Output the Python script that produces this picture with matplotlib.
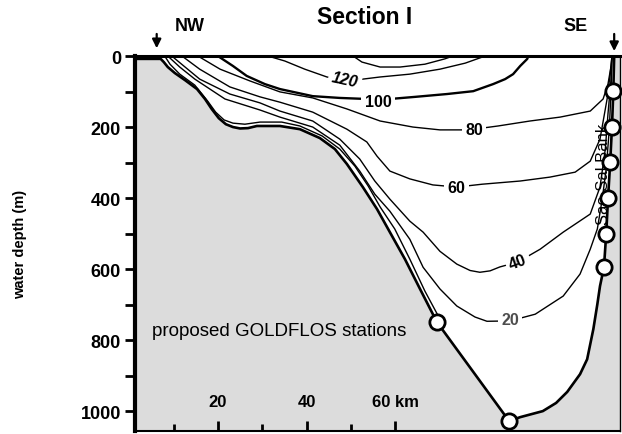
import matplotlib
matplotlib.use("Agg")
import matplotlib.pyplot as plt

plt.rcParams['font.family'] = ['Liberation Sans', 'DejaVu Sans']

# seafloor profile along the section (km, m)
floor_km = [1.3, 7.1, 7.8, 8.7, 10.3, 12.6, 15.3, 17.1, 18.6, 20.2, 21.8, 23.4, 25.0, 26.8,
            28.8, 34.0, 38.5, 43.0, 46.4, 49.1, 52.7, 55.9, 58.8, 62.2, 65.6, 69.4, 85.7,
            88.2, 93.3, 96.3, 98.8, 101.7, 103.3, 104.7, 105.6, 106.2, 107.1, 107.6, 108.0,
            108.5, 108.9, 109.2, 109.4]
floor_m = [8, 8, 17, 31, 48, 68, 93, 121, 149, 175, 192, 200, 204, 203,
           197, 197, 206, 231, 262, 304, 369, 431, 496, 572, 656, 749, 1028,
           1017, 1000, 977, 946, 896, 854, 769, 699, 648, 594, 501, 403,
           299, 200, 99, 0]

# proposed stations
stn_km = [69.4, 85.7, 107.1, 107.6, 108.0, 108.5, 108.9, 109.2]
stn_m = [749, 1028, 594, 501, 400, 299, 200, 99]

# contour lines
cA_km = [50.5, 52.5, 56.6, 61.1, 66.7, 71.2, 73.0]
cA_m = [0, 17, 31, 31, 23, 8, 0]

c120_km = [31.3, 35.1, 39.6, 44.6, 48.7, 52.7, 56.6, 63.3, 70.1, 75.8, 80.3]
c120_m = [0, 14, 37, 59, 68, 65, 59, 51, 37, 20, 0]

c100_km = [20.0, 23.4, 26.5, 30.6, 34.0, 41.4, 47.5, 53.6, 58.8, 64.5, 71.7, 77.6, 82.1,
           84.8, 86.6, 88.2, 89.8, 90.0]
c100_m = [0, 28, 56, 79, 93, 113, 118, 121, 121, 115, 107, 99, 79, 65, 51, 28, 8, 0]

c80_km = [15.5, 20.5, 27.2, 34.0, 41.4, 49.1, 56.6, 64.0, 70.1, 75.1, 77.8, 83.2, 90.4,
          97.2, 104.0, 106.9, 108.0, 108.7, 108.9]
c80_m = [0, 37, 70, 101, 118, 149, 183, 200, 208, 208, 206, 197, 183, 172, 155, 121, 79, 28, 0]

c60_km = [11.9, 15.9, 22.7, 29.5, 34.0, 41.4, 49.1, 53.6, 55.9, 58.8, 63.3, 68.5, 73.9,
          79.6, 88.2, 94.9, 100.6, 104.0, 106.2, 107.8, 108.5, 108.9]
c60_m = [0, 37, 87, 115, 130, 158, 206, 242, 282, 324, 346, 363, 369, 361, 352, 341, 327,
         296, 234, 121, 51, 0]

c40_km = [9.6, 12.6, 15.9, 22.7, 29.5, 34.0, 41.4, 47.5, 52.0, 55.4, 58.8, 63.3, 66.3,
          70.1, 73.9, 76.9, 79.1, 81.4, 83.6, 87.7, 92.7, 97.9, 104.0, 106.2, 107.4, 108.0,
          108.7, 108.9]
c40_m = [0, 31, 65, 107, 132, 155, 183, 234, 290, 352, 403, 465, 496, 550, 586, 604, 609,
         605, 594, 580, 544, 496, 445, 369, 262, 163, 65, 0]

c20_km = [8.7, 11.4, 14.8, 21.6, 29.5, 34.0, 41.4, 47.5, 52.0, 55.4, 58.8, 63.3, 66.3,
          70.1, 73.9, 78.0, 80.7, 85.9, 91.6, 97.9, 101.7, 104.0, 105.6, 106.7, 107.6,
          108.3, 108.7, 108.9]
c20_m = [0, 31, 65, 121, 152, 172, 200, 251, 324, 389, 437, 516, 595, 656, 704, 735, 747,
         746, 727, 676, 614, 544, 487, 403, 318, 206, 93, 0]

cH_km = [8.0, 9.2, 11.4, 14.8, 17.7, 19.5, 21.4, 23.4, 26.1, 29.5, 34.4, 38.5, 43.5, 47.5,
         50.9, 53.9, 56.6, 59.9, 63.3, 66.7, 70.1]
cH_m = [0, 23, 51, 82, 127, 158, 180, 189, 192, 186, 186, 197, 225, 262, 310, 366, 425,
        487, 572, 662, 741]

# contour labels: text, km, m, rotation
lab_txt = ['120', '100', '80', '60', '40', '20']
lab_km = [48.7, 56.1, 77.8, 73.9, 87.7, 85.9]
lab_m = [65, 128, 206, 369, 580, 741]
lab_rot = [-12, 0, 0, 0, 20, 0]

xtick_km = [20, 40, 60]
xtick_lab = ['20', '40', '60 km']

fig = plt.figure(figsize=(6.22, 4.35), dpi=100)
ax = fig.add_axes([0.217, 0.0069, 0.7797, 0.862])
ax.set_facecolor('#dcdcdc')
ax.set_xlim(1.3, 110.7)
ax.set_ylim(1056, 0)

# water body
ax.fill([1.3] + floor_km + [109.4], [0] + floor_m + [0], color='white', zorder=1, lw=0)

thin = [(cA_km, cA_m), (c120_km, c120_m), (c80_km, c80_m), (c60_km, c60_m),
        (c40_km, c40_m), (c20_km, c20_m), (cH_km, cH_m)]
for xs, ys in thin:
    ax.plot(xs, ys, color='k', lw=1.0, zorder=2)
ax.plot(c100_km, c100_m, color='k', lw=1.7, zorder=2)

for t, x, y, r in zip(lab_txt, lab_km, lab_m, lab_rot):
    style = 'italic' if t == '120' else 'normal'
    col = '0.3' if t == '20' else 'k'
    ax.text(x, y, t, ha='center', va='center', rotation=r, fontsize=11.5, fontweight='bold',
            fontstyle=style, color=col, zorder=3,
            bbox=dict(fc='white', ec='none', pad=2.5))

ax.plot(floor_km, floor_m, color='k', lw=1.9, zorder=4, solid_capstyle='butt')

ax.text(106.9, 330, 'Sao Sal Bank', rotation=90, ha='center', va='center', fontsize=12,
        zorder=4)
ax.plot(stn_km, stn_m, 'o', ms=11, mfc='white', mec='k', mew=2.0, zorder=5, clip_on=False)

ax.text(5.1, 772, 'proposed GOLDFLOS stations', ha='left', va='center', fontsize=13.5,
        zorder=4)

# km scale inside the panel
ax.set_xticks(xtick_km)
ax.set_xticks([10, 30, 50], minor=True)
ax.tick_params(axis='x', which='both', direction='in', width=2, labelbottom=False)
ax.tick_params(axis='x', which='major', length=7)
ax.tick_params(axis='x', which='minor', length=5)
for x, t in zip(xtick_km, xtick_lab):
    ax.text(x, 972, t, ha='center', va='center', fontsize=12, fontweight='bold')

ax.set_yticks([0, 200, 400, 600, 800, 1000])
ax.set_yticks([100, 300, 500, 700, 900], minor=True)
ax.tick_params(axis='y', which='both', direction='out', length=7, width=2, pad=3)
for lb in ax.get_yticklabels():
    lb.set_fontweight('bold')
    lb.set_fontsize(13)

ax.spines['left'].set_linewidth(3)
ax.spines['top'].set_linewidth(2.2)
ax.spines['bottom'].set_linewidth(1.5)
ax.spines['right'].set_linewidth(1.0)
for s in ax.spines.values():
    s.set_zorder(6)

ax.annotate('', xy=(6.2, -14), xytext=(6.2, -70),
            arrowprops=dict(arrowstyle='-|>', color='k', lw=1.6, mutation_scale=13),
            annotation_clip=False)
ax.annotate('', xy=(109.4, -6), xytext=(109.4, -70),
            arrowprops=dict(arrowstyle='-|>', color='k', lw=1.6, mutation_scale=13),
            annotation_clip=False)
ax.text(13.7, -85, 'NW', ha='center', va='center', fontsize=13, fontweight='bold',
        clip_on=False)
ax.text(100.6, -85, 'SE', ha='center', va='center', fontsize=13, fontweight='bold',
        clip_on=False)

fig.text(0.587, 0.959, 'Section I', ha='center', va='center', fontsize=16.5,
         fontweight='bold')
fig.text(0.032, 0.437, 'water depth (m)', rotation=90, ha='center', va='center',
         fontsize=10.5, fontweight='bold')

fig.savefig('out.png', dpi=100)
